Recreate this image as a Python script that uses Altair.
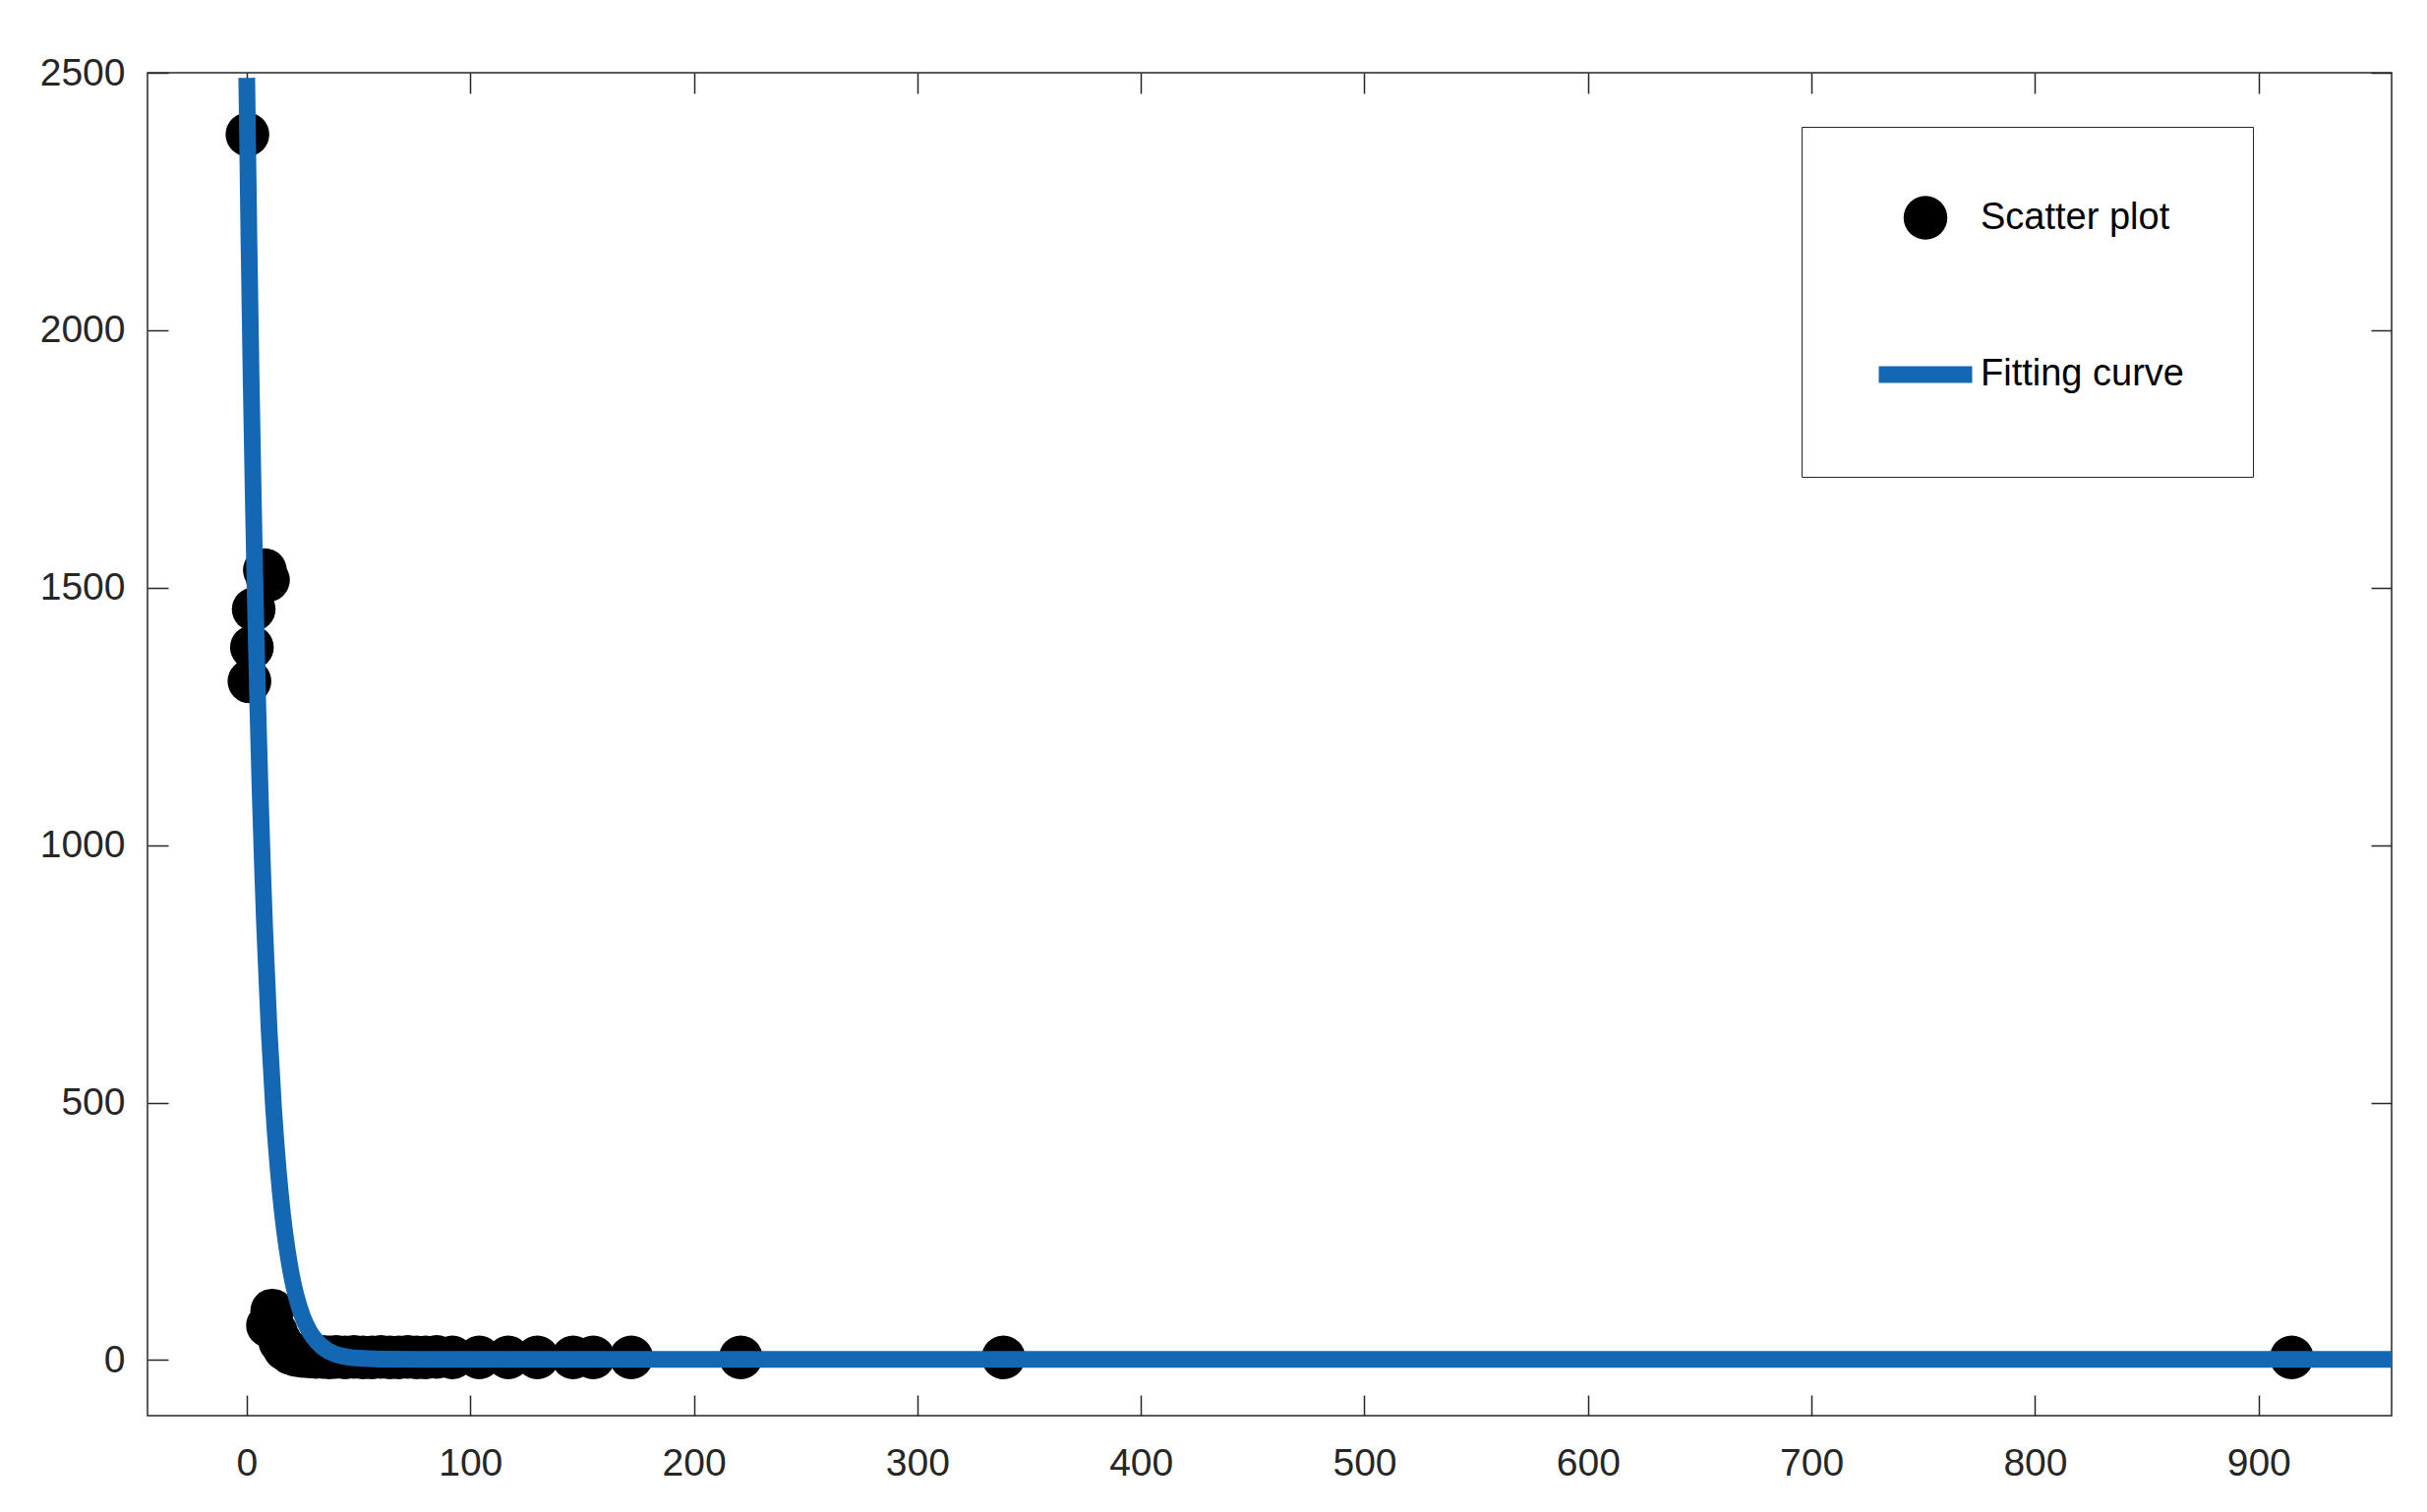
import altair as alt
import pandas as pd

# ---------------- data ----------------
scatter_x = [0.3, 1.2, 2.3, 3.1, 8.1, 9.5,
             9.5, 11.4, 13.0, 15.0, 17.0, 19.5, 22.0, 25.0, 28.0, 31.0, 34.0,
             37.0, 40.0, 44.0, 48.0, 52.0, 56.0, 60.0, 64.0, 68.0, 72.0, 76.0,
             80.0, 85.0, 92.0, 104.0, 117.0, 130.0, 146.0, 155.0, 172.0,
             221.0, 338.5, 914.8]
scatter_y = [2380, 1318, 1384, 1458, 1534, 1515,
             67, 96, 55, 35, 22, 14, 10, 8, 7, 6, 6,
             5, 6, 5, 6, 5, 5, 6, 5, 5, 6, 5,
             5, 6, 5, 5, 5, 5, 5, 5, 5,
             5, 5, 5]

curve_x = [0, 1, 2, 3, 4, 5, 6, 7, 8, 10, 12, 14, 16, 18, 20, 22, 25, 28,
           32, 36, 40, 45, 50, 60, 80, 120, 200, 400, 700, 960]
curve_y = [2490, 2170, 1895, 1655, 1445, 1262, 1102, 963, 841, 641, 489, 373,
           284, 217, 165, 126, 84, 56, 33, 19, 11, 6, 3.5, 2, 1.5, 1.5, 1.5,
           1.5, 1.5, 1.5]

series_names = ["Scatter plot", "Fitting curve"]
series_colors = ["#000000", "#1467B2"]

x_ticks = [0, 100, 200, 300, 400, 500, 600, 700, 800, 900]
y_ticks = [0, 500, 1000, 1500, 2000, 2500]
x_domain = [-44.4, 959.5]
y_domain = [-108, 2500]

# ---------------- layout / style ----------------
W, H = 2282, 1366
FONT = "Liberation Sans"
AX = "#262626"
TICK = 21

df_s = pd.DataFrame({"x": scatter_x, "y": scatter_y, "series": series_names[0]})
df_c = pd.DataFrame({"x": curve_x, "y": curve_y, "series": series_names[1]})

xscale = alt.Scale(domain=x_domain, nice=False, zero=False)
yscale = alt.Scale(domain=y_domain, nice=False, zero=False)
cscale = alt.Scale(domain=series_names, range=series_colors)
sscale = alt.Scale(domain=series_names, range=["circle", "stroke"])
zscale = alt.Scale(domain=series_names, range=[1980, 9025])
wscale = alt.Scale(domain=series_names, range=[0, 17])


def axis(orient, values, labels, pad):
    kw = dict(orient=orient, values=values, grid=False, domain=False,
              ticks=True, tickSize=TICK, tickWidth=1.5, tickColor=AX,
              offset=-TICK, title=None, labels=labels, format="d")
    if labels:
        kw.update(labelFont=FONT, labelFontSize=39, labelColor=AX,
                  labelPadding=pad, labelFlush=False, labelOverlap=False)
    return alt.Axis(**kw)


legend = alt.Legend(orient="none", legendX=1682, legendY=55, title=None,
                    direction="vertical", strokeColor=AX, fillColor="white",
                    padding=70, labelFont=FONT, labelFontSize=38,
                    labelColor="#000000", labelOffset=0, rowPadding=81,
                    labelLimit=0)

points = alt.Chart(df_s).mark_point(
    filled=True, opacity=1, clip=True
).encode(
    x=alt.X("x:Q", scale=xscale, axis=axis("bottom", x_ticks, True, 29)),
    y=alt.Y("y:Q", scale=yscale, axis=axis("left", y_ticks, True, 23)),
    color=alt.Color("series:N", scale=cscale, legend=legend),
    shape=alt.Shape("series:N", scale=sscale, legend=legend),
    size=alt.Size("series:N", scale=zscale, legend=legend),
    strokeWidth=alt.StrokeWidth("series:N", scale=wscale, legend=legend),
)

line = alt.Chart(df_c).mark_line(
    clip=True, interpolate="monotone"
).encode(
    x=alt.X("x:Q", scale=xscale, axis=axis("top", x_ticks, False, 0)),
    y=alt.Y("y:Q", scale=yscale, axis=axis("right", y_ticks, False, 0)),
    color=alt.Color("series:N", scale=cscale, legend=legend),
    strokeWidth=alt.StrokeWidth("series:N", scale=wscale, legend=legend),
)

chart = alt.layer(points, line).resolve_axis(
    x="independent", y="independent"
).properties(
    width=W, height=H,
    autosize=alt.AutoSizeParams(type="none"),
    padding={"left": 142, "top": 66, "right": 28, "bottom": 90},
    background="white",
).configure_view(
    stroke=AX, strokeWidth=1.5
)

chart.save("out.html", embed_options={"renderer": "svg", "actions": False})
